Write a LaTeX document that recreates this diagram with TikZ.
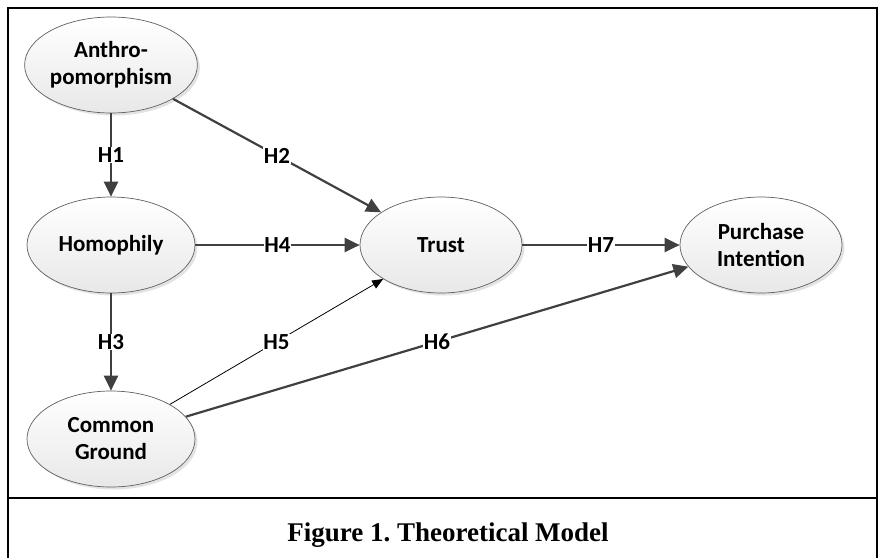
\documentclass[tikz,border=0pt]{standalone}
\usepackage{fontspec}
\setmainfont{Carlito}
\newfontfamily\capfont{Liberation Serif}
\usetikzlibrary{arrows.meta,shadows,shapes.geometric}
\frenchspacing
\definecolor{linegray}{HTML}{404040}
\definecolor{edgegray}{HTML}{606060}
\tikzset{
  construct/.style={ellipse, draw=edgegray, line width=0.7pt,
    top color=white, bottom color=black!9,
    drop shadow={shadow xshift=2.5pt, shadow yshift=-2.5pt, fill=black!18, opacity=0.6},
    minimum width=168pt, minimum height=96pt, inner sep=0pt,
    align=center, font=\fontsize{23}{27}\selectfont\bfseries},
  narrow/.style={minimum width=162pt},
  hyp/.style={draw=linegray, line width=2.2pt, -{Triangle[length=15pt,width=14pt]}},
  thinhyp/.style={draw=black, line width=0.8pt, -{Triangle[length=11pt,width=9pt]}},
  hlabel/.style={fill=white, inner sep=0.6pt, font=\fontsize{23}{27}\selectfont\bfseries, text=black},
  frameline/.style={line width=2pt, draw=black}
}
\begin{document}
\begin{tikzpicture}[x=1pt,y=-1pt]
\useasboundingbox (0,0) rectangle (878,558);
% frame
\draw[frameline] (8,558) -- (8,8) -- (877,8) -- (877,558);
\draw[frameline] (8,498) -- (877,498);
% constructs
\node[construct] (A) at (111,65) {Anthro-\\pomorphism};
\node[construct] (Hm) at (111,245) {Homophily};
\node[construct] (CG) at (111,439) {Common\\Ground};
\node[construct,narrow] (T) at (441,245) {Trust};
\node[construct,narrow] (PI) at (761,245) {Purchase\\Intention};
% hypotheses
\draw[hyp] (A) -- node[hlabel] {H1} (Hm);
\draw[hyp] (A) -- node[hlabel] {H2} (T);
\draw[hyp] (Hm) -- node[hlabel] {H3} (CG);
\draw[hyp] (Hm) -- node[hlabel] {H4} (T);
\draw[thinhyp] (CG) -- node[hlabel] {H5} (T);
\draw[hyp] (CG) -- node[hlabel] {H6} (PI);
\draw[hyp] (T) -- node[hlabel] {H7} (PI);
% caption
\node[anchor=base, font=\capfont\fontsize{27}{30}\selectfont\bfseries] (cap) at (448,541) {Figure 1. Theoretical Model};
\end{tikzpicture}
\end{document}
